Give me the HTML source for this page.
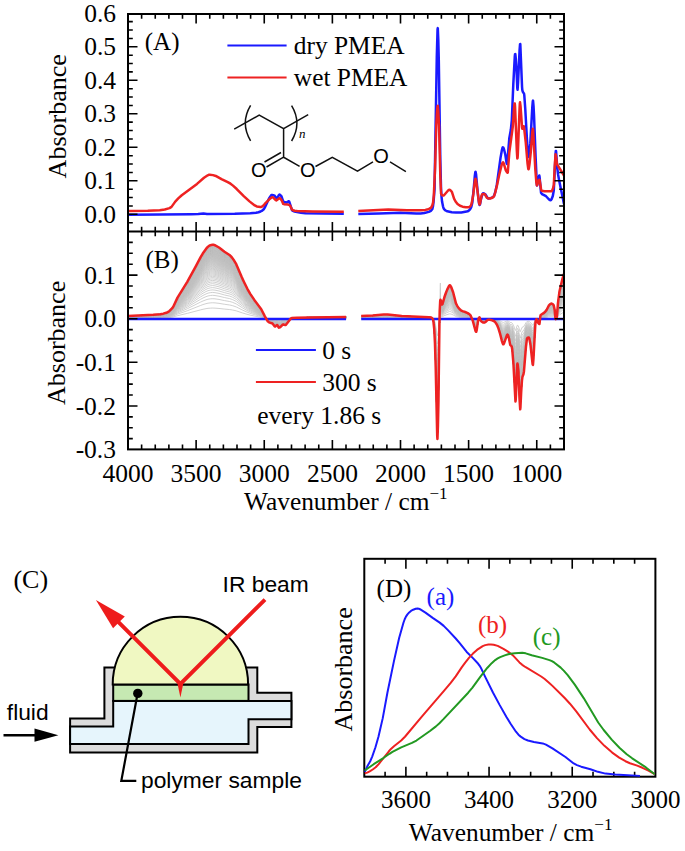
<!DOCTYPE html>
<html><head><meta charset="utf-8"><style>
html,body{margin:0;padding:0;background:#fff;width:685px;height:851px;overflow:hidden}
svg{display:block;font-family:"Liberation Serif",serif}
</style></head><body>
<svg width="685" height="851" viewBox="0 0 685 851">
<rect width="685" height="851" fill="#fff"/>
<defs><path id="g1" d="M128.00,-2.60 153.50,-3.96 160.50,-4.56 163.50,-5.11 166.50,-6.01 168.00,-6.68 169.50,-7.75 171.50,-9.69 173.00,-11.59 177.50,-21.10 187.50,-37.27 200.50,-61.32 203.00,-65.54 206.00,-69.75 208.00,-72.02 210.50,-73.48 212.50,-74.00 215.00,-73.38 219.00,-71.19 224.50,-66.91 229.50,-63.70 231.00,-62.31 232.50,-60.48 235.00,-56.70 236.50,-53.96 242.50,-39.98 247.00,-30.63 250.00,-25.23 254.00,-19.25 261.50,-9.06 264.50,-3.02 267.50,2.26 269.00,3.61 272.50,4.80 274.50,7.53 275.00,7.80 275.50,7.60 277.00,6.33 277.50,6.52 278.50,8.62 279.00,9.00 280.50,8.17 283.00,5.80 285.50,6.39 286.50,5.50 290.50,0.21 291.50,-0.52 292.00,-0.63 297.00,-1.01 310.50,-1.34 346.10,-1.70" fill="none" stroke="#c0c0c0" stroke-width="0.75" vector-effect="non-scaling-stroke"/>
<path id="g2" d="M361.20,-2.80 372.70,-3.24 383.70,-4.13 387.70,-4.17 401.70,-2.62 429.20,-1.55 431.20,-1.19 432.70,0.16 433.20,1.63 433.70,5.13 434.70,18.26 435.70,48.80 437.20,117.45 437.70,115.95 438.20,95.88 439.70,-7.89 440.20,-17.87 440.70,-18.52 441.70,-14.97 442.20,-14.30 442.70,-15.25 444.20,-20.84 446.20,-26.60 449.20,-33.09 449.70,-33.49 450.20,-33.32 451.20,-31.65 453.20,-26.17 455.70,-16.10 456.70,-13.82 458.70,-10.57 460.70,-8.53 462.20,-7.73 465.70,-6.54 467.70,-5.58 469.70,-4.20 470.70,-3.00 472.70,1.78 475.70,12.68 476.20,13.14 477.20,8.47 478.20,1.16 479.20,-1.17 479.70,-1.05 480.20,1.31 480.70,1.99 481.70,3.00 483.20,3.77 484.70,3.79 487.70,1.26 488.70,1.00 490.70,1.26 492.70,1.89 494.20,2.55 495.20,3.44 497.20,6.56 498.20,9.03 499.70,13.70 501.70,21.56 502.70,24.76 503.20,25.67 503.70,25.38 504.20,24.29 506.70,17.05 507.20,16.09 507.70,16.01 508.70,18.72 510.20,26.18 511.70,27.80 512.20,30.52 513.70,49.40 515.20,79.69 515.70,81.44 517.20,46.36 517.70,45.63 518.20,49.68 518.70,57.57 519.70,84.01 520.20,90.60 522.20,59.53 523.70,54.60 526.20,25.58 526.70,21.34 527.20,19.40 528.70,18.70 529.20,19.57 529.70,21.63 530.70,27.82 532.70,45.77 533.20,44.32 535.20,7.69 535.70,2.50 536.20,0.85 536.70,0.63 537.70,3.17 539.20,5.35 539.70,4.07 540.20,-1.03 540.70,-3.73 544.20,-6.02 545.20,-6.97 546.70,-8.99 548.70,-12.98 550.20,-14.59 551.20,-15.10 552.70,-14.54 553.70,-13.33 554.70,-8.68 555.20,-2.46 555.70,0.48 556.20,-0.03 556.70,-1.10 558.20,-17.83 559.70,-28.48 562.70,-40.91 564.50,-46.70" fill="none" stroke="#c0c0c0" stroke-width="0.75" vector-effect="non-scaling-stroke"/></defs>
<g clip-path="url(#cB)">
<use href="#g1" transform="translate(0,318.70) scale(1,0.1438)"/>
<use href="#g2" transform="translate(0,318.70) scale(1,0.1438)"/>
<use href="#g1" transform="translate(0,318.70) scale(1,0.2155)"/>
<use href="#g2" transform="translate(0,318.70) scale(1,0.2155)"/>
<use href="#g1" transform="translate(0,318.70) scale(1,0.2705)"/>
<use href="#g2" transform="translate(0,318.70) scale(1,0.2705)"/>
<use href="#g1" transform="translate(0,318.70) scale(1,0.3159)"/>
<use href="#g2" transform="translate(0,318.70) scale(1,0.3159)"/>
<use href="#g1" transform="translate(0,318.70) scale(1,0.3549)"/>
<use href="#g2" transform="translate(0,318.70) scale(1,0.3549)"/>
<use href="#g1" transform="translate(0,318.70) scale(1,0.3893)"/>
<use href="#g2" transform="translate(0,318.70) scale(1,0.3893)"/>
<use href="#g1" transform="translate(0,318.70) scale(1,0.4199)"/>
<use href="#g2" transform="translate(0,318.70) scale(1,0.4199)"/>
<use href="#g1" transform="translate(0,318.70) scale(1,0.4477)"/>
<use href="#g2" transform="translate(0,318.70) scale(1,0.4477)"/>
<use href="#g1" transform="translate(0,318.70) scale(1,0.4730)"/>
<use href="#g2" transform="translate(0,318.70) scale(1,0.4730)"/>
<use href="#g1" transform="translate(0,318.70) scale(1,0.4962)"/>
<use href="#g2" transform="translate(0,318.70) scale(1,0.4962)"/>
<use href="#g1" transform="translate(0,318.70) scale(1,0.5176)"/>
<use href="#g2" transform="translate(0,318.70) scale(1,0.5176)"/>
<use href="#g1" transform="translate(0,318.70) scale(1,0.5375)"/>
<use href="#g2" transform="translate(0,318.70) scale(1,0.5375)"/>
<use href="#g1" transform="translate(0,318.70) scale(1,0.5560)"/>
<use href="#g2" transform="translate(0,318.70) scale(1,0.5560)"/>
<use href="#g1" transform="translate(0,318.70) scale(1,0.5733)"/>
<use href="#g2" transform="translate(0,318.70) scale(1,0.5733)"/>
<use href="#g1" transform="translate(0,318.70) scale(1,0.5895)"/>
<use href="#g2" transform="translate(0,318.70) scale(1,0.5895)"/>
<use href="#g1" transform="translate(0,318.70) scale(1,0.6048)"/>
<use href="#g2" transform="translate(0,318.70) scale(1,0.6048)"/>
<use href="#g1" transform="translate(0,318.70) scale(1,0.6191)"/>
<use href="#g2" transform="translate(0,318.70) scale(1,0.6191)"/>
<use href="#g1" transform="translate(0,318.70) scale(1,0.6327)"/>
<use href="#g2" transform="translate(0,318.70) scale(1,0.6327)"/>
<use href="#g1" transform="translate(0,318.70) scale(1,0.6455)"/>
<use href="#g2" transform="translate(0,318.70) scale(1,0.6455)"/>
<use href="#g1" transform="translate(0,318.70) scale(1,0.6577)"/>
<use href="#g2" transform="translate(0,318.70) scale(1,0.6577)"/>
<use href="#g1" transform="translate(0,318.70) scale(1,0.6692)"/>
<use href="#g2" transform="translate(0,318.70) scale(1,0.6692)"/>
<use href="#g1" transform="translate(0,318.70) scale(1,0.6802)"/>
<use href="#g2" transform="translate(0,318.70) scale(1,0.6802)"/>
<use href="#g1" transform="translate(0,318.70) scale(1,0.6906)"/>
<use href="#g2" transform="translate(0,318.70) scale(1,0.6906)"/>
<use href="#g1" transform="translate(0,318.70) scale(1,0.7005)"/>
<use href="#g2" transform="translate(0,318.70) scale(1,0.7005)"/>
<use href="#g1" transform="translate(0,318.70) scale(1,0.7100)"/>
<use href="#g2" transform="translate(0,318.70) scale(1,0.7100)"/>
<use href="#g1" transform="translate(0,318.70) scale(1,0.7191)"/>
<use href="#g2" transform="translate(0,318.70) scale(1,0.7191)"/>
<use href="#g1" transform="translate(0,318.70) scale(1,0.7277)"/>
<use href="#g2" transform="translate(0,318.70) scale(1,0.7277)"/>
<use href="#g1" transform="translate(0,318.70) scale(1,0.7360)"/>
<use href="#g2" transform="translate(0,318.70) scale(1,0.7360)"/>
<use href="#g1" transform="translate(0,318.70) scale(1,0.7439)"/>
<use href="#g2" transform="translate(0,318.70) scale(1,0.7439)"/>
<use href="#g1" transform="translate(0,318.70) scale(1,0.7515)"/>
<use href="#g2" transform="translate(0,318.70) scale(1,0.7515)"/>
<use href="#g1" transform="translate(0,318.70) scale(1,0.7588)"/>
<use href="#g2" transform="translate(0,318.70) scale(1,0.7588)"/>
<use href="#g1" transform="translate(0,318.70) scale(1,0.7658)"/>
<use href="#g2" transform="translate(0,318.70) scale(1,0.7658)"/>
<use href="#g1" transform="translate(0,318.70) scale(1,0.7725)"/>
<use href="#g2" transform="translate(0,318.70) scale(1,0.7725)"/>
<use href="#g1" transform="translate(0,318.70) scale(1,0.7790)"/>
<use href="#g2" transform="translate(0,318.70) scale(1,0.7790)"/>
<use href="#g1" transform="translate(0,318.70) scale(1,0.7852)"/>
<use href="#g2" transform="translate(0,318.70) scale(1,0.7852)"/>
<use href="#g1" transform="translate(0,318.70) scale(1,0.7912)"/>
<use href="#g2" transform="translate(0,318.70) scale(1,0.7912)"/>
<use href="#g1" transform="translate(0,318.70) scale(1,0.7969)"/>
<use href="#g2" transform="translate(0,318.70) scale(1,0.7969)"/>
<use href="#g1" transform="translate(0,318.70) scale(1,0.8024)"/>
<use href="#g2" transform="translate(0,318.70) scale(1,0.8024)"/>
<use href="#g1" transform="translate(0,318.70) scale(1,0.8078)"/>
<use href="#g2" transform="translate(0,318.70) scale(1,0.8078)"/>
<use href="#g1" transform="translate(0,318.70) scale(1,0.8129)"/>
<use href="#g2" transform="translate(0,318.70) scale(1,0.8129)"/>
<use href="#g1" transform="translate(0,318.70) scale(1,0.8179)"/>
<use href="#g2" transform="translate(0,318.70) scale(1,0.8179)"/>
<use href="#g1" transform="translate(0,318.70) scale(1,0.8227)"/>
<use href="#g2" transform="translate(0,318.70) scale(1,0.8227)"/>
<use href="#g1" transform="translate(0,318.70) scale(1,0.8273)"/>
<use href="#g2" transform="translate(0,318.70) scale(1,0.8273)"/>
<use href="#g1" transform="translate(0,318.70) scale(1,0.8318)"/>
<use href="#g2" transform="translate(0,318.70) scale(1,0.8318)"/>
<use href="#g1" transform="translate(0,318.70) scale(1,0.8361)"/>
<use href="#g2" transform="translate(0,318.70) scale(1,0.8361)"/>
<use href="#g1" transform="translate(0,318.70) scale(1,0.8403)"/>
<use href="#g2" transform="translate(0,318.70) scale(1,0.8403)"/>
<use href="#g1" transform="translate(0,318.70) scale(1,0.8443)"/>
<use href="#g2" transform="translate(0,318.70) scale(1,0.8443)"/>
<use href="#g1" transform="translate(0,318.70) scale(1,0.8482)"/>
<use href="#g2" transform="translate(0,318.70) scale(1,0.8482)"/>
<use href="#g1" transform="translate(0,318.70) scale(1,0.8520)"/>
<use href="#g2" transform="translate(0,318.70) scale(1,0.8520)"/>
<use href="#g1" transform="translate(0,318.70) scale(1,0.8557)"/>
<use href="#g2" transform="translate(0,318.70) scale(1,0.8557)"/>
<use href="#g1" transform="translate(0,318.70) scale(1,0.8592)"/>
<use href="#g2" transform="translate(0,318.70) scale(1,0.8592)"/>
<use href="#g1" transform="translate(0,318.70) scale(1,0.8627)"/>
<use href="#g2" transform="translate(0,318.70) scale(1,0.8627)"/>
<use href="#g1" transform="translate(0,318.70) scale(1,0.8660)"/>
<use href="#g2" transform="translate(0,318.70) scale(1,0.8660)"/>
<use href="#g1" transform="translate(0,318.70) scale(1,0.8692)"/>
<use href="#g2" transform="translate(0,318.70) scale(1,0.8692)"/>
<use href="#g1" transform="translate(0,318.70) scale(1,0.8724)"/>
<use href="#g2" transform="translate(0,318.70) scale(1,0.8724)"/>
<use href="#g1" transform="translate(0,318.70) scale(1,0.8754)"/>
<use href="#g2" transform="translate(0,318.70) scale(1,0.8754)"/>
<use href="#g1" transform="translate(0,318.70) scale(1,0.8783)"/>
<use href="#g2" transform="translate(0,318.70) scale(1,0.8783)"/>
<use href="#g1" transform="translate(0,318.70) scale(1,0.8812)"/>
<use href="#g2" transform="translate(0,318.70) scale(1,0.8812)"/>
<use href="#g1" transform="translate(0,318.70) scale(1,0.8840)"/>
<use href="#g2" transform="translate(0,318.70) scale(1,0.8840)"/>
<use href="#g1" transform="translate(0,318.70) scale(1,0.8867)"/>
<use href="#g2" transform="translate(0,318.70) scale(1,0.8867)"/>
<use href="#g1" transform="translate(0,318.70) scale(1,0.8893)"/>
<use href="#g2" transform="translate(0,318.70) scale(1,0.8893)"/>
<use href="#g1" transform="translate(0,318.70) scale(1,0.8918)"/>
<use href="#g2" transform="translate(0,318.70) scale(1,0.8918)"/>
<use href="#g1" transform="translate(0,318.70) scale(1,0.8943)"/>
<use href="#g2" transform="translate(0,318.70) scale(1,0.8943)"/>
<use href="#g1" transform="translate(0,318.70) scale(1,0.8967)"/>
<use href="#g2" transform="translate(0,318.70) scale(1,0.8967)"/>
<use href="#g1" transform="translate(0,318.70) scale(1,0.8990)"/>
<use href="#g2" transform="translate(0,318.70) scale(1,0.8990)"/>
<use href="#g1" transform="translate(0,318.70) scale(1,0.9013)"/>
<use href="#g2" transform="translate(0,318.70) scale(1,0.9013)"/>
<use href="#g1" transform="translate(0,318.70) scale(1,0.9035)"/>
<use href="#g2" transform="translate(0,318.70) scale(1,0.9035)"/>
<use href="#g1" transform="translate(0,318.70) scale(1,0.9056)"/>
<use href="#g2" transform="translate(0,318.70) scale(1,0.9056)"/>
<use href="#g1" transform="translate(0,318.70) scale(1,0.9077)"/>
<use href="#g2" transform="translate(0,318.70) scale(1,0.9077)"/>
<use href="#g1" transform="translate(0,318.70) scale(1,0.9097)"/>
<use href="#g2" transform="translate(0,318.70) scale(1,0.9097)"/>
<use href="#g1" transform="translate(0,318.70) scale(1,0.9117)"/>
<use href="#g2" transform="translate(0,318.70) scale(1,0.9117)"/>
<use href="#g1" transform="translate(0,318.70) scale(1,0.9136)"/>
<use href="#g2" transform="translate(0,318.70) scale(1,0.9136)"/>
<use href="#g1" transform="translate(0,318.70) scale(1,0.9155)"/>
<use href="#g2" transform="translate(0,318.70) scale(1,0.9155)"/>
<use href="#g1" transform="translate(0,318.70) scale(1,0.9173)"/>
<use href="#g2" transform="translate(0,318.70) scale(1,0.9173)"/>
<use href="#g1" transform="translate(0,318.70) scale(1,0.9191)"/>
<use href="#g2" transform="translate(0,318.70) scale(1,0.9191)"/>
<use href="#g1" transform="translate(0,318.70) scale(1,0.9208)"/>
<use href="#g2" transform="translate(0,318.70) scale(1,0.9208)"/>
<use href="#g1" transform="translate(0,318.70) scale(1,0.9225)"/>
<use href="#g2" transform="translate(0,318.70) scale(1,0.9225)"/>
<use href="#g1" transform="translate(0,318.70) scale(1,0.9241)"/>
<use href="#g2" transform="translate(0,318.70) scale(1,0.9241)"/>
<use href="#g1" transform="translate(0,318.70) scale(1,0.9257)"/>
<use href="#g2" transform="translate(0,318.70) scale(1,0.9257)"/>
<use href="#g1" transform="translate(0,318.70) scale(1,0.9273)"/>
<use href="#g2" transform="translate(0,318.70) scale(1,0.9273)"/>
<use href="#g1" transform="translate(0,318.70) scale(1,0.9288)"/>
<use href="#g2" transform="translate(0,318.70) scale(1,0.9288)"/>
<use href="#g1" transform="translate(0,318.70) scale(1,0.9303)"/>
<use href="#g2" transform="translate(0,318.70) scale(1,0.9303)"/>
<use href="#g1" transform="translate(0,318.70) scale(1,0.9317)"/>
<use href="#g2" transform="translate(0,318.70) scale(1,0.9317)"/>
<use href="#g1" transform="translate(0,318.70) scale(1,0.9331)"/>
<use href="#g2" transform="translate(0,318.70) scale(1,0.9331)"/>
<use href="#g1" transform="translate(0,318.70) scale(1,0.9345)"/>
<use href="#g2" transform="translate(0,318.70) scale(1,0.9345)"/>
<use href="#g1" transform="translate(0,318.70) scale(1,0.9358)"/>
<use href="#g2" transform="translate(0,318.70) scale(1,0.9358)"/>
<use href="#g1" transform="translate(0,318.70) scale(1,0.9371)"/>
<use href="#g2" transform="translate(0,318.70) scale(1,0.9371)"/>
<use href="#g1" transform="translate(0,318.70) scale(1,0.9384)"/>
<use href="#g2" transform="translate(0,318.70) scale(1,0.9384)"/>
<use href="#g1" transform="translate(0,318.70) scale(1,0.9397)"/>
<use href="#g2" transform="translate(0,318.70) scale(1,0.9397)"/>
<use href="#g1" transform="translate(0,318.70) scale(1,0.9409)"/>
<use href="#g2" transform="translate(0,318.70) scale(1,0.9409)"/>
<use href="#g1" transform="translate(0,318.70) scale(1,0.9421)"/>
<use href="#g2" transform="translate(0,318.70) scale(1,0.9421)"/>
<use href="#g1" transform="translate(0,318.70) scale(1,0.9432)"/>
<use href="#g2" transform="translate(0,318.70) scale(1,0.9432)"/>
<use href="#g1" transform="translate(0,318.70) scale(1,0.9443)"/>
<use href="#g2" transform="translate(0,318.70) scale(1,0.9443)"/>
<use href="#g1" transform="translate(0,318.70) scale(1,0.9454)"/>
<use href="#g2" transform="translate(0,318.70) scale(1,0.9454)"/>
<use href="#g1" transform="translate(0,318.70) scale(1,0.9465)"/>
<use href="#g2" transform="translate(0,318.70) scale(1,0.9465)"/>
<use href="#g1" transform="translate(0,318.70) scale(1,0.9476)"/>
<use href="#g2" transform="translate(0,318.70) scale(1,0.9476)"/>
<use href="#g1" transform="translate(0,318.70) scale(1,0.9486)"/>
<use href="#g2" transform="translate(0,318.70) scale(1,0.9486)"/>
<use href="#g1" transform="translate(0,318.70) scale(1,0.9496)"/>
<use href="#g2" transform="translate(0,318.70) scale(1,0.9496)"/>
<use href="#g1" transform="translate(0,318.70) scale(1,0.9506)"/>
<use href="#g2" transform="translate(0,318.70) scale(1,0.9506)"/>
<use href="#g1" transform="translate(0,318.70) scale(1,0.9515)"/>
<use href="#g2" transform="translate(0,318.70) scale(1,0.9515)"/>
<use href="#g1" transform="translate(0,318.70) scale(1,0.9525)"/>
<use href="#g2" transform="translate(0,318.70) scale(1,0.9525)"/>
<use href="#g1" transform="translate(0,318.70) scale(1,0.9534)"/>
<use href="#g2" transform="translate(0,318.70) scale(1,0.9534)"/>
<use href="#g1" transform="translate(0,318.70) scale(1,0.9543)"/>
<use href="#g2" transform="translate(0,318.70) scale(1,0.9543)"/>
<use href="#g1" transform="translate(0,318.70) scale(1,0.9552)"/>
<use href="#g2" transform="translate(0,318.70) scale(1,0.9552)"/>
<use href="#g1" transform="translate(0,318.70) scale(1,0.9560)"/>
<use href="#g2" transform="translate(0,318.70) scale(1,0.9560)"/>
<use href="#g1" transform="translate(0,318.70) scale(1,0.9568)"/>
<use href="#g2" transform="translate(0,318.70) scale(1,0.9568)"/>
<use href="#g1" transform="translate(0,318.70) scale(1,0.9577)"/>
<use href="#g2" transform="translate(0,318.70) scale(1,0.9577)"/>
<use href="#g1" transform="translate(0,318.70) scale(1,0.9585)"/>
<use href="#g2" transform="translate(0,318.70) scale(1,0.9585)"/>
<use href="#g1" transform="translate(0,318.70) scale(1,0.9592)"/>
<use href="#g2" transform="translate(0,318.70) scale(1,0.9592)"/>
<use href="#g1" transform="translate(0,318.70) scale(1,0.9600)"/>
<use href="#g2" transform="translate(0,318.70) scale(1,0.9600)"/>
<use href="#g1" transform="translate(0,318.70) scale(1,0.9608)"/>
<use href="#g2" transform="translate(0,318.70) scale(1,0.9608)"/>
<use href="#g1" transform="translate(0,318.70) scale(1,0.9615)"/>
<use href="#g2" transform="translate(0,318.70) scale(1,0.9615)"/>
<use href="#g1" transform="translate(0,318.70) scale(1,0.9622)"/>
<use href="#g2" transform="translate(0,318.70) scale(1,0.9622)"/>
<use href="#g1" transform="translate(0,318.70) scale(1,0.9629)"/>
<use href="#g2" transform="translate(0,318.70) scale(1,0.9629)"/>
<use href="#g1" transform="translate(0,318.70) scale(1,0.9636)"/>
<use href="#g2" transform="translate(0,318.70) scale(1,0.9636)"/>
<use href="#g1" transform="translate(0,318.70) scale(1,0.9642)"/>
<use href="#g2" transform="translate(0,318.70) scale(1,0.9642)"/>
<use href="#g1" transform="translate(0,318.70) scale(1,0.9649)"/>
<use href="#g2" transform="translate(0,318.70) scale(1,0.9649)"/>
<use href="#g1" transform="translate(0,318.70) scale(1,0.9655)"/>
<use href="#g2" transform="translate(0,318.70) scale(1,0.9655)"/>
<use href="#g1" transform="translate(0,318.70) scale(1,0.9662)"/>
<use href="#g2" transform="translate(0,318.70) scale(1,0.9662)"/>
<use href="#g1" transform="translate(0,318.70) scale(1,0.9668)"/>
<use href="#g2" transform="translate(0,318.70) scale(1,0.9668)"/>
<use href="#g1" transform="translate(0,318.70) scale(1,0.9674)"/>
<use href="#g2" transform="translate(0,318.70) scale(1,0.9674)"/>
<use href="#g1" transform="translate(0,318.70) scale(1,0.9680)"/>
<use href="#g2" transform="translate(0,318.70) scale(1,0.9680)"/>
<use href="#g1" transform="translate(0,318.70) scale(1,0.9686)"/>
<use href="#g2" transform="translate(0,318.70) scale(1,0.9686)"/>
<use href="#g1" transform="translate(0,318.70) scale(1,0.9691)"/>
<use href="#g2" transform="translate(0,318.70) scale(1,0.9691)"/>
<use href="#g1" transform="translate(0,318.70) scale(1,0.9697)"/>
<use href="#g2" transform="translate(0,318.70) scale(1,0.9697)"/>
<use href="#g1" transform="translate(0,318.70) scale(1,0.9702)"/>
<use href="#g2" transform="translate(0,318.70) scale(1,0.9702)"/>
<use href="#g1" transform="translate(0,318.70) scale(1,0.9707)"/>
<use href="#g2" transform="translate(0,318.70) scale(1,0.9707)"/>
<use href="#g1" transform="translate(0,318.70) scale(1,0.9713)"/>
<use href="#g2" transform="translate(0,318.70) scale(1,0.9713)"/>
<use href="#g1" transform="translate(0,318.70) scale(1,0.9718)"/>
<use href="#g2" transform="translate(0,318.70) scale(1,0.9718)"/>
<use href="#g1" transform="translate(0,318.70) scale(1,0.9723)"/>
<use href="#g2" transform="translate(0,318.70) scale(1,0.9723)"/>
<use href="#g1" transform="translate(0,318.70) scale(1,0.9728)"/>
<use href="#g2" transform="translate(0,318.70) scale(1,0.9728)"/>
<use href="#g1" transform="translate(0,318.70) scale(1,0.9732)"/>
<use href="#g2" transform="translate(0,318.70) scale(1,0.9732)"/>
<use href="#g1" transform="translate(0,318.70) scale(1,0.9737)"/>
<use href="#g2" transform="translate(0,318.70) scale(1,0.9737)"/>
<use href="#g1" transform="translate(0,318.70) scale(1,0.9742)"/>
<use href="#g2" transform="translate(0,318.70) scale(1,0.9742)"/>
<use href="#g1" transform="translate(0,318.70) scale(1,0.9746)"/>
<use href="#g2" transform="translate(0,318.70) scale(1,0.9746)"/>
<use href="#g1" transform="translate(0,318.70) scale(1,0.9751)"/>
<use href="#g2" transform="translate(0,318.70) scale(1,0.9751)"/>
<use href="#g1" transform="translate(0,318.70) scale(1,0.9755)"/>
<use href="#g2" transform="translate(0,318.70) scale(1,0.9755)"/>
<use href="#g1" transform="translate(0,318.70) scale(1,0.9759)"/>
<use href="#g2" transform="translate(0,318.70) scale(1,0.9759)"/>
<use href="#g1" transform="translate(0,318.70) scale(1,0.9763)"/>
<use href="#g2" transform="translate(0,318.70) scale(1,0.9763)"/>
<use href="#g1" transform="translate(0,318.70) scale(1,0.9767)"/>
<use href="#g2" transform="translate(0,318.70) scale(1,0.9767)"/>
<use href="#g1" transform="translate(0,318.70) scale(1,0.9771)"/>
<use href="#g2" transform="translate(0,318.70) scale(1,0.9771)"/>
<use href="#g1" transform="translate(0,318.70) scale(1,0.9775)"/>
<use href="#g2" transform="translate(0,318.70) scale(1,0.9775)"/>
<use href="#g1" transform="translate(0,318.70) scale(1,0.9779)"/>
<use href="#g2" transform="translate(0,318.70) scale(1,0.9779)"/>
<use href="#g1" transform="translate(0,318.70) scale(1,0.9783)"/>
<use href="#g2" transform="translate(0,318.70) scale(1,0.9783)"/>
<use href="#g1" transform="translate(0,318.70) scale(1,0.9787)"/>
<use href="#g2" transform="translate(0,318.70) scale(1,0.9787)"/>
<use href="#g1" transform="translate(0,318.70) scale(1,0.9790)"/>
<use href="#g2" transform="translate(0,318.70) scale(1,0.9790)"/>
<use href="#g1" transform="translate(0,318.70) scale(1,0.9794)"/>
<use href="#g2" transform="translate(0,318.70) scale(1,0.9794)"/>
<use href="#g1" transform="translate(0,318.70) scale(1,0.9797)"/>
<use href="#g2" transform="translate(0,318.70) scale(1,0.9797)"/>
<use href="#g1" transform="translate(0,318.70) scale(1,0.9801)"/>
<use href="#g2" transform="translate(0,318.70) scale(1,0.9801)"/>
<use href="#g1" transform="translate(0,318.70) scale(1,0.9804)"/>
<use href="#g2" transform="translate(0,318.70) scale(1,0.9804)"/>
<use href="#g1" transform="translate(0,318.70) scale(1,0.9807)"/>
<use href="#g2" transform="translate(0,318.70) scale(1,0.9807)"/>
<use href="#g1" transform="translate(0,318.70) scale(1,0.9810)"/>
<use href="#g2" transform="translate(0,318.70) scale(1,0.9810)"/>
<use href="#g1" transform="translate(0,318.70) scale(1,0.9814)"/>
<use href="#g2" transform="translate(0,318.70) scale(1,0.9814)"/>
<use href="#g1" transform="translate(0,318.70) scale(1,0.9817)"/>
<use href="#g2" transform="translate(0,318.70) scale(1,0.9817)"/>
<use href="#g1" transform="translate(0,318.70) scale(1,0.9820)"/>
<use href="#g2" transform="translate(0,318.70) scale(1,0.9820)"/>
<use href="#g1" transform="translate(0,318.70) scale(1,0.9823)"/>
<use href="#g2" transform="translate(0,318.70) scale(1,0.9823)"/>
<use href="#g1" transform="translate(0,318.70) scale(1,0.9826)"/>
<use href="#g2" transform="translate(0,318.70) scale(1,0.9826)"/>
<use href="#g1" transform="translate(0,318.70) scale(1,0.9829)"/>
<use href="#g2" transform="translate(0,318.70) scale(1,0.9829)"/>
<use href="#g1" transform="translate(0,318.70) scale(1,0.9831)"/>
<use href="#g2" transform="translate(0,318.70) scale(1,0.9831)"/>
<use href="#g1" transform="translate(0,318.70) scale(1,0.9834)"/>
<use href="#g2" transform="translate(0,318.70) scale(1,0.9834)"/>
</g>
<path d="M439.4,318.5 L439.8,283 L440.8,283 L441.2,318.5 Z" fill="#c4c4c4"/>
<defs><clipPath id="cA"><rect x="128" y="14" width="436" height="217.5"/></clipPath><clipPath id="cB"><rect x="128" y="231.5" width="436" height="217.9"/></clipPath><clipPath id="cD"><rect x="364.3" y="558.8" width="291.1" height="217.9"/></clipPath></defs>
<g clip-path="url(#cA)">
<path d="M128.00,214.80 191.50,214.15 198.25,213.99 203.50,213.50 207.00,213.90 234.75,213.74 250.25,213.29 256.00,212.80 258.50,212.25 260.50,211.52 262.25,210.54 263.75,209.25 264.75,207.69 269.00,198.50 271.25,195.24 271.75,195.00 272.25,195.02 274.25,195.41 276.25,197.85 277.00,198.18 277.50,197.71 279.00,194.95 279.50,194.60 280.25,194.94 281.50,196.42 283.00,200.80 283.50,201.60 285.00,202.35 286.50,202.59 288.50,201.30 289.00,201.23 289.25,201.51 292.00,210.14 293.00,210.89 294.50,211.50 301.00,212.79 305.50,213.28 323.25,213.59 343.80,213.70" fill="none" stroke="#1a1aff" stroke-width="2.5" stroke-linejoin="round" stroke-linecap="butt"/>
<path d="M358.30,213.90 379.05,213.48 400.30,212.81 405.30,212.88 416.30,213.45 420.55,213.46 424.30,212.98 428.80,211.90 430.80,210.85 432.30,209.25 433.05,205.88 433.55,201.81 434.55,189.08 436.80,56.36 437.55,29.28 437.80,28.13 438.30,40.00 438.80,60.20 440.30,159.16 441.05,188.97 441.55,196.91 442.05,201.56 443.05,206.55 443.55,208.15 444.05,209.06 445.55,210.50 447.30,211.35 451.80,212.23 456.05,212.59 461.30,212.40 466.55,211.59 468.30,211.01 469.80,209.63 470.55,208.62 471.30,206.89 472.30,202.67 473.80,187.95 474.80,175.81 475.30,172.09 475.55,171.72 476.05,174.21 477.30,188.19 478.55,199.61 479.05,203.31 479.55,204.98 479.80,204.80 480.05,204.07 481.05,198.99 482.05,195.41 482.55,193.97 483.05,193.31 484.05,193.52 485.30,194.24 487.55,197.88 488.30,198.49 489.80,198.32 492.05,197.60 493.30,196.78 494.05,195.82 495.30,191.89 496.80,184.96 500.55,157.60 501.80,150.64 502.55,147.63 502.80,147.24 503.30,147.52 504.05,149.46 505.30,154.47 506.55,162.87 506.80,163.76 507.05,163.96 507.30,162.70 509.30,138.27 510.80,130.01 511.80,120.34 513.30,84.11 514.80,56.14 515.05,54.15 515.30,53.96 515.80,58.66 516.55,70.84 517.30,88.33 517.55,89.82 518.05,82.58 519.55,50.47 520.05,44.14 520.30,44.10 522.05,86.84 522.30,89.90 522.55,90.95 523.05,92.23 524.05,93.65 524.30,95.45 525.30,109.53 526.80,136.90 527.80,151.74 528.30,156.40 528.55,156.88 529.05,155.13 530.30,143.43 532.30,107.08 532.80,101.17 533.05,100.56 533.55,106.28 534.05,115.98 535.55,155.50 536.80,183.86 537.05,185.48 537.55,183.68 538.80,176.91 539.30,175.50 539.55,176.70 541.05,192.78 541.80,193.81 542.55,194.46 546.05,196.22 548.80,199.25 549.80,200.06 550.80,200.25 551.55,199.29 552.80,196.06 553.80,190.30 555.55,153.94 555.80,150.92 556.05,150.98 557.30,168.13 558.05,174.24 559.30,181.36 564.00,204.00" fill="none" stroke="#1a1aff" stroke-width="2.5" stroke-linejoin="round" stroke-linecap="butt"/>
<path d="M128.00,211.10 147.75,210.72 159.75,210.22 164.75,209.48 169.50,208.12 171.50,206.90 175.25,201.61 178.25,198.43 181.75,195.25 197.00,183.90 204.00,177.81 207.75,175.28 208.75,174.85 209.75,174.70 213.00,175.13 215.75,175.95 221.50,179.14 227.75,182.11 230.50,183.69 233.00,185.63 236.75,189.01 243.75,196.09 249.50,201.38 254.75,205.39 256.75,206.44 260.50,207.00 261.25,206.94 262.00,206.61 263.75,205.27 265.50,203.06 269.00,199.51 271.25,197.68 272.50,197.20 273.25,197.55 275.75,200.20 276.25,200.40 279.00,198.42 279.75,198.20 280.25,198.39 281.75,200.44 283.25,203.92 284.00,204.18 288.00,204.54 289.50,205.16 290.25,205.79 292.00,209.74 293.00,210.22 294.75,210.70 297.25,211.00 312.50,211.43 343.80,211.70" fill="none" stroke="#ee2222" stroke-width="2.5" stroke-linejoin="round" stroke-linecap="butt"/>
<path d="M358.30,210.90 388.30,209.61 407.05,210.33 419.80,210.25 425.30,209.88 427.05,209.58 429.55,208.63 431.30,207.40 432.30,205.34 433.05,202.66 433.80,195.61 435.05,168.77 436.30,124.49 437.05,110.90 437.55,105.93 437.80,105.77 438.30,110.98 439.05,126.16 440.30,175.00 441.05,193.70 441.55,194.56 442.30,195.27 443.05,195.57 443.80,195.49 448.30,190.30 449.05,189.84 450.05,190.04 451.30,191.16 452.05,192.29 454.05,198.65 455.55,201.50 457.55,204.03 460.05,205.72 462.55,206.67 465.80,207.15 468.55,207.30 469.80,206.71 471.05,205.25 471.80,202.69 473.30,194.40 474.80,181.49 475.30,178.96 475.55,178.71 475.80,179.20 476.30,181.85 478.80,201.32 479.30,203.89 479.55,204.38 479.80,204.21 480.05,203.52 481.55,195.56 482.05,194.48 483.55,193.97 484.55,193.98 485.05,194.53 486.80,197.68 487.30,198.04 488.80,198.43 490.05,198.48 491.55,198.06 493.55,196.84 494.05,196.16 495.05,193.17 496.80,186.12 499.30,174.55 501.55,165.44 502.30,163.14 502.80,162.37 503.05,162.31 503.30,162.50 503.80,163.55 505.80,170.31 507.05,172.37 507.55,172.77 507.80,172.47 509.30,152.55 512.80,126.61 514.05,107.79 514.55,103.48 514.80,103.51 515.05,106.57 516.80,150.42 517.30,158.42 517.55,158.09 517.80,154.79 519.55,108.77 519.80,103.75 520.05,102.34 520.55,106.29 522.05,127.40 522.30,128.70 522.55,128.48 523.55,126.18 523.80,126.22 524.05,127.39 525.80,142.80 527.55,163.55 528.30,168.97 528.55,169.28 528.80,168.76 529.55,163.87 530.80,151.89 532.30,131.84 532.80,128.80 533.05,129.23 535.30,169.27 536.30,182.00 536.80,185.38 537.05,185.38 537.30,184.74 538.30,181.00 539.05,179.94 539.55,179.73 541.05,189.07 541.55,190.77 544.55,191.26 551.05,191.30 551.55,191.19 552.05,190.63 553.05,188.13 553.80,185.00 554.80,165.00 555.55,154.37 555.80,154.76 556.05,156.34 556.80,162.86 557.30,164.57 564.00,175.50" fill="none" stroke="#ee2222" stroke-width="2.5" stroke-linejoin="round" stroke-linecap="butt"/>
</g><g clip-path="url(#cB)">
<path d="M128.00,318.90 346.10,318.90" fill="none" stroke="#1a1aff" stroke-width="2.5" stroke-linejoin="round" stroke-linecap="butt"/>
<path d="M361.20,318.90 564.00,319.00" fill="none" stroke="#1a1aff" stroke-width="2.5" stroke-linejoin="round" stroke-linecap="butt"/>
<path d="M128.00,316.10 153.25,314.76 160.25,314.17 163.25,313.65 166.25,312.78 168.00,312.02 169.50,310.95 172.00,308.45 173.25,306.69 177.50,297.60 187.25,281.87 195.50,266.89 200.50,257.38 202.75,253.54 206.00,248.95 208.00,246.68 209.00,245.95 210.50,245.22 212.50,244.70 213.50,244.80 214.75,245.21 219.00,247.51 224.50,251.79 229.50,255.00 230.75,256.12 232.25,257.89 234.25,260.80 236.25,264.24 241.50,276.53 244.00,281.91 247.50,289.04 250.25,293.87 254.50,300.15 261.25,309.24 264.75,316.17 267.75,321.30 269.00,322.31 272.50,323.50 274.75,326.43 275.25,326.45 276.75,325.16 277.25,325.01 277.75,325.66 278.50,327.32 279.00,327.70 279.75,327.42 280.50,326.87 282.75,324.58 283.50,324.57 285.25,325.09 285.75,324.99 290.25,319.17 291.00,318.46 291.75,318.11 297.00,317.69 309.50,317.38 346.10,317.00" fill="none" stroke="#ee2222" stroke-width="2.5" stroke-linejoin="round" stroke-linecap="butt"/>
<path d="M361.20,315.90 372.70,315.46 383.70,314.57 387.70,314.53 401.70,316.08 428.95,317.13 431.20,317.51 431.95,318.02 432.70,318.86 432.95,319.32 433.45,321.86 434.20,328.86 434.95,343.22 435.70,367.50 437.20,436.15 437.45,439.06 437.95,425.74 438.45,401.81 439.45,322.82 439.70,310.81 440.20,300.83 440.45,299.81 440.95,300.88 441.95,304.47 442.45,304.04 444.45,297.04 445.95,292.78 447.20,289.63 449.20,285.61 449.70,285.21 450.20,285.38 451.20,287.05 453.20,292.53 455.95,303.32 457.20,305.80 458.45,307.79 459.70,309.31 460.95,310.33 462.45,311.07 465.95,312.26 467.70,313.12 469.45,314.28 470.70,315.70 472.70,320.48 475.45,330.65 475.95,331.82 476.20,331.84 476.70,330.12 478.20,319.86 478.70,318.33 479.45,317.33 479.70,317.65 479.95,319.54 480.20,320.01 481.45,321.48 482.95,322.40 483.95,322.59 484.70,322.49 485.45,322.01 487.45,320.13 488.45,319.70 490.20,319.86 492.20,320.40 494.20,321.25 495.20,322.14 496.95,324.79 498.20,327.73 499.95,333.26 501.70,340.26 502.70,343.46 503.20,344.37 503.45,344.35 503.95,343.61 506.95,335.18 507.45,334.61 507.95,335.13 508.95,338.28 510.20,344.88 511.70,346.50 512.20,349.22 513.45,364.00 515.45,401.50 515.70,400.14 515.95,395.34 517.20,365.06 517.45,363.52 517.70,364.33 518.45,371.13 519.45,397.70 520.20,409.30 520.45,407.25 521.20,391.70 521.95,380.67 522.45,376.93 523.45,374.30 523.95,371.42 525.95,346.92 526.95,338.71 527.45,337.90 528.70,337.40 528.95,337.63 529.45,339.20 530.45,344.50 532.45,362.94 532.70,364.47 532.95,364.84 533.45,359.22 535.20,326.39 535.45,323.09 535.95,320.26 536.45,319.21 536.70,319.33 537.95,322.42 538.95,323.86 539.45,324.06 540.45,315.64 540.70,314.97 543.95,312.87 545.20,311.73 546.70,309.71 548.70,305.72 550.20,304.11 551.20,303.60 551.95,303.73 552.70,304.16 553.45,304.86 553.70,305.37 554.70,310.02 555.45,318.70 555.70,319.18 556.20,318.67 556.70,317.60 556.95,316.02 557.95,303.13 559.45,291.58 562.45,278.74 564.50,272.00" fill="none" stroke="#ee2222" stroke-width="2.5" stroke-linejoin="round" stroke-linecap="butt"/>
</g>
<rect x="128" y="14" width="436" height="435.4" fill="none" stroke="#000" stroke-width="2"/>
<line x1="128.00" y1="231.50" x2="564.00" y2="231.50" stroke="#000" stroke-width="2"/>
<path d="M141.62,14.00L141.62,18.80 M141.62,231.50L141.62,226.70 M141.62,231.50L141.62,236.30 M141.62,449.40L141.62,444.60 M155.25,14.00L155.25,18.80 M155.25,231.50L155.25,226.70 M155.25,231.50L155.25,236.30 M155.25,449.40L155.25,444.60 M168.88,14.00L168.88,18.80 M168.88,231.50L168.88,226.70 M168.88,231.50L168.88,236.30 M168.88,449.40L168.88,444.60 M182.50,14.00L182.50,18.80 M182.50,231.50L182.50,226.70 M182.50,231.50L182.50,236.30 M182.50,449.40L182.50,444.60 M196.12,14.00L196.12,23.50 M196.12,231.50L196.12,222.00 M196.12,231.50L196.12,241.00 M196.12,449.40L196.12,439.90 M209.75,14.00L209.75,18.80 M209.75,231.50L209.75,226.70 M209.75,231.50L209.75,236.30 M209.75,449.40L209.75,444.60 M223.38,14.00L223.38,18.80 M223.38,231.50L223.38,226.70 M223.38,231.50L223.38,236.30 M223.38,449.40L223.38,444.60 M237.00,14.00L237.00,18.80 M237.00,231.50L237.00,226.70 M237.00,231.50L237.00,236.30 M237.00,449.40L237.00,444.60 M250.62,14.00L250.62,18.80 M250.62,231.50L250.62,226.70 M250.62,231.50L250.62,236.30 M250.62,449.40L250.62,444.60 M264.25,14.00L264.25,23.50 M264.25,231.50L264.25,222.00 M264.25,231.50L264.25,241.00 M264.25,449.40L264.25,439.90 M277.88,14.00L277.88,18.80 M277.88,231.50L277.88,226.70 M277.88,231.50L277.88,236.30 M277.88,449.40L277.88,444.60 M291.50,14.00L291.50,18.80 M291.50,231.50L291.50,226.70 M291.50,231.50L291.50,236.30 M291.50,449.40L291.50,444.60 M305.12,14.00L305.12,18.80 M305.12,231.50L305.12,226.70 M305.12,231.50L305.12,236.30 M305.12,449.40L305.12,444.60 M318.75,14.00L318.75,18.80 M318.75,231.50L318.75,226.70 M318.75,231.50L318.75,236.30 M318.75,449.40L318.75,444.60 M332.38,14.00L332.38,23.50 M332.38,231.50L332.38,222.00 M332.38,231.50L332.38,241.00 M332.38,449.40L332.38,439.90 M346.00,14.00L346.00,18.80 M346.00,231.50L346.00,226.70 M346.00,231.50L346.00,236.30 M346.00,449.40L346.00,444.60 M359.62,14.00L359.62,18.80 M359.62,231.50L359.62,226.70 M359.62,231.50L359.62,236.30 M359.62,449.40L359.62,444.60 M373.25,14.00L373.25,18.80 M373.25,231.50L373.25,226.70 M373.25,231.50L373.25,236.30 M373.25,449.40L373.25,444.60 M386.88,14.00L386.88,18.80 M386.88,231.50L386.88,226.70 M386.88,231.50L386.88,236.30 M386.88,449.40L386.88,444.60 M400.50,14.00L400.50,23.50 M400.50,231.50L400.50,222.00 M400.50,231.50L400.50,241.00 M400.50,449.40L400.50,439.90 M414.12,14.00L414.12,18.80 M414.12,231.50L414.12,226.70 M414.12,231.50L414.12,236.30 M414.12,449.40L414.12,444.60 M427.75,14.00L427.75,18.80 M427.75,231.50L427.75,226.70 M427.75,231.50L427.75,236.30 M427.75,449.40L427.75,444.60 M441.38,14.00L441.38,18.80 M441.38,231.50L441.38,226.70 M441.38,231.50L441.38,236.30 M441.38,449.40L441.38,444.60 M455.00,14.00L455.00,18.80 M455.00,231.50L455.00,226.70 M455.00,231.50L455.00,236.30 M455.00,449.40L455.00,444.60 M468.62,14.00L468.62,23.50 M468.62,231.50L468.62,222.00 M468.62,231.50L468.62,241.00 M468.62,449.40L468.62,439.90 M482.25,14.00L482.25,18.80 M482.25,231.50L482.25,226.70 M482.25,231.50L482.25,236.30 M482.25,449.40L482.25,444.60 M495.88,14.00L495.88,18.80 M495.88,231.50L495.88,226.70 M495.88,231.50L495.88,236.30 M495.88,449.40L495.88,444.60 M509.50,14.00L509.50,18.80 M509.50,231.50L509.50,226.70 M509.50,231.50L509.50,236.30 M509.50,449.40L509.50,444.60 M523.12,14.00L523.12,18.80 M523.12,231.50L523.12,226.70 M523.12,231.50L523.12,236.30 M523.12,449.40L523.12,444.60 M536.75,14.00L536.75,23.50 M536.75,231.50L536.75,222.00 M536.75,231.50L536.75,241.00 M536.75,449.40L536.75,439.90 M550.38,14.00L550.38,18.80 M550.38,231.50L550.38,226.70 M550.38,231.50L550.38,236.30 M550.38,449.40L550.38,444.60 M128.00,222.68L132.80,222.68 M564.00,222.68L559.20,222.68 M128.00,214.30L137.50,214.30 M564.00,214.30L554.50,214.30 M128.00,205.93L132.80,205.93 M564.00,205.93L559.20,205.93 M128.00,197.55L132.80,197.55 M564.00,197.55L559.20,197.55 M128.00,189.18L132.80,189.18 M564.00,189.18L559.20,189.18 M128.00,180.80L137.50,180.80 M564.00,180.80L554.50,180.80 M128.00,172.43L132.80,172.43 M564.00,172.43L559.20,172.43 M128.00,164.05L132.80,164.05 M564.00,164.05L559.20,164.05 M128.00,155.68L132.80,155.68 M564.00,155.68L559.20,155.68 M128.00,147.30L137.50,147.30 M564.00,147.30L554.50,147.30 M128.00,138.93L132.80,138.93 M564.00,138.93L559.20,138.93 M128.00,130.55L132.80,130.55 M564.00,130.55L559.20,130.55 M128.00,122.17L132.80,122.17 M564.00,122.17L559.20,122.17 M128.00,113.80L137.50,113.80 M564.00,113.80L554.50,113.80 M128.00,105.43L132.80,105.43 M564.00,105.43L559.20,105.43 M128.00,97.05L132.80,97.05 M564.00,97.05L559.20,97.05 M128.00,88.68L132.80,88.68 M564.00,88.68L559.20,88.68 M128.00,80.30L137.50,80.30 M564.00,80.30L554.50,80.30 M128.00,71.92L132.80,71.92 M564.00,71.92L559.20,71.92 M128.00,63.55L132.80,63.55 M564.00,63.55L559.20,63.55 M128.00,55.18L132.80,55.18 M564.00,55.18L559.20,55.18 M128.00,46.80L137.50,46.80 M564.00,46.80L554.50,46.80 M128.00,38.43L132.80,38.43 M564.00,38.43L559.20,38.43 M128.00,30.05L132.80,30.05 M564.00,30.05L559.20,30.05 M128.00,21.67L132.80,21.67 M564.00,21.67L559.20,21.67 M128.00,438.65L132.80,438.65 M564.00,438.65L559.20,438.65 M128.00,427.75L132.80,427.75 M564.00,427.75L559.20,427.75 M128.00,416.84L132.80,416.84 M564.00,416.84L559.20,416.84 M128.00,405.94L137.50,405.94 M564.00,405.94L554.50,405.94 M128.00,395.03L132.80,395.03 M564.00,395.03L559.20,395.03 M128.00,384.13L132.80,384.13 M564.00,384.13L559.20,384.13 M128.00,373.22L132.80,373.22 M564.00,373.22L559.20,373.22 M128.00,362.32L137.50,362.32 M564.00,362.32L554.50,362.32 M128.00,351.41L132.80,351.41 M564.00,351.41L559.20,351.41 M128.00,340.51L132.80,340.51 M564.00,340.51L559.20,340.51 M128.00,329.61L132.80,329.61 M564.00,329.61L559.20,329.61 M128.00,318.70L137.50,318.70 M564.00,318.70L554.50,318.70 M128.00,307.79L132.80,307.79 M564.00,307.79L559.20,307.79 M128.00,296.89L132.80,296.89 M564.00,296.89L559.20,296.89 M128.00,285.99L132.80,285.99 M564.00,285.99L559.20,285.99 M128.00,275.08L137.50,275.08 M564.00,275.08L554.50,275.08 M128.00,264.18L132.80,264.18 M564.00,264.18L559.20,264.18 M128.00,253.27L132.80,253.27 M564.00,253.27L559.20,253.27 M128.00,242.36L132.80,242.36 M564.00,242.36L559.20,242.36" stroke="#000" stroke-width="1.6" fill="none"/>
<text x="116.00" y="222.90" font-size="25.5" text-anchor="end" font-family="Liberation Serif" fill="#000">0.0</text>
<text x="116.00" y="189.40" font-size="25.5" text-anchor="end" font-family="Liberation Serif" fill="#000">0.1</text>
<text x="116.00" y="155.90" font-size="25.5" text-anchor="end" font-family="Liberation Serif" fill="#000">0.2</text>
<text x="116.00" y="122.40" font-size="25.5" text-anchor="end" font-family="Liberation Serif" fill="#000">0.3</text>
<text x="116.00" y="88.90" font-size="25.5" text-anchor="end" font-family="Liberation Serif" fill="#000">0.4</text>
<text x="116.00" y="55.40" font-size="25.5" text-anchor="end" font-family="Liberation Serif" fill="#000">0.5</text>
<text x="116.00" y="21.90" font-size="25.5" text-anchor="end" font-family="Liberation Serif" fill="#000">0.6</text>
<text x="116.00" y="283.68" font-size="25.5" text-anchor="end" font-family="Liberation Serif" fill="#000">0.1</text>
<text x="116.00" y="327.30" font-size="25.5" text-anchor="end" font-family="Liberation Serif" fill="#000">0.0</text>
<text x="116.00" y="370.92" font-size="25.5" text-anchor="end" font-family="Liberation Serif" fill="#000">-0.1</text>
<text x="116.00" y="414.54" font-size="25.5" text-anchor="end" font-family="Liberation Serif" fill="#000">-0.2</text>
<text x="116.00" y="458.16" font-size="25.5" text-anchor="end" font-family="Liberation Serif" fill="#000">-0.3</text>
<text x="128.00" y="481.80" font-size="25.5" text-anchor="middle" font-family="Liberation Serif" fill="#000">4000</text>
<text x="196.12" y="481.80" font-size="25.5" text-anchor="middle" font-family="Liberation Serif" fill="#000">3500</text>
<text x="264.25" y="481.80" font-size="25.5" text-anchor="middle" font-family="Liberation Serif" fill="#000">3000</text>
<text x="332.38" y="481.80" font-size="25.5" text-anchor="middle" font-family="Liberation Serif" fill="#000">2500</text>
<text x="400.50" y="481.80" font-size="25.5" text-anchor="middle" font-family="Liberation Serif" fill="#000">2000</text>
<text x="468.62" y="481.80" font-size="25.5" text-anchor="middle" font-family="Liberation Serif" fill="#000">1500</text>
<text x="536.75" y="481.80" font-size="25.5" text-anchor="middle" font-family="Liberation Serif" fill="#000">1000</text>
<text x="0.00" y="0.00" font-size="26" text-anchor="middle" font-family="Liberation Serif" fill="#000" transform="translate(65.6,116.3) rotate(-90)">Absorbance</text>
<text x="0.00" y="0.00" font-size="26" text-anchor="middle" font-family="Liberation Serif" fill="#000" transform="translate(65.2,342.9) rotate(-90)">Absorbance</text>
<text x="244.00" y="510.00" font-size="25.4" text-anchor="start" font-family="Liberation Serif" fill="#000">Wavenumber / cm<tspan font-size="17" dy="-10.7">&#8722;1</tspan></text>
<text x="144.80" y="49.60" font-size="25" text-anchor="start" font-family="Liberation Serif" fill="#000">(A)</text>
<text x="145.50" y="267.60" font-size="25" text-anchor="start" font-family="Liberation Serif" fill="#000">(B)</text>
<line x1="227.40" y1="45.40" x2="286.60" y2="45.40" stroke="#1a1aff" stroke-width="2"/>
<line x1="227.40" y1="77.60" x2="286.60" y2="77.60" stroke="#ee2222" stroke-width="2"/>
<text x="293.80" y="53.80" font-size="25.4" text-anchor="start" font-family="Liberation Serif" fill="#000">dry PMEA</text>
<text x="293.80" y="86.30" font-size="25.4" text-anchor="start" font-family="Liberation Serif" fill="#000">wet PMEA</text>
<line x1="255.90" y1="349.90" x2="315.90" y2="349.90" stroke="#1a1aff" stroke-width="2"/>
<line x1="255.90" y1="381.90" x2="315.90" y2="381.90" stroke="#ee2222" stroke-width="2"/>
<text x="322.20" y="358.50" font-size="25.5" text-anchor="start" font-family="Liberation Serif" fill="#000">0 s</text>
<text x="322.20" y="391.00" font-size="25.5" text-anchor="start" font-family="Liberation Serif" fill="#000">300 s</text>
<text x="257.30" y="423.80" font-size="25.5" text-anchor="start" font-family="Liberation Serif" fill="#000">every 1.86 s</text>
<path d="M234.2,129.2 L259.2,115.1 L283.6,128.6 L308.2,114.7 M283.6,128.6 L283.6,157.2 L299.6,166.4 M283.6,157.2 L266.5,167 M281,152.5 L264.5,162 M315.5,166.5 L332.3,157.4 L357.5,171.1 L373,161.9 M390,161.9 L405.9,171.6" stroke="#111" stroke-width="1.5" fill="none"/>
<path d="M250.6,105.3 Q240.0,123 250.6,140.8 M291.6,105.6 Q302.2,123.2 291.6,141" stroke="#111" stroke-width="1.5" fill="none"/>
<text x="299.00" y="137.50" font-size="13" text-anchor="start" font-family="Liberation Serif" fill="#000" font-style="italic">n</text>
<text x="258.90" y="176.50" font-size="20" text-anchor="middle" font-family="Liberation Sans" fill="#000">O</text>
<text x="307.70" y="176.50" font-size="20" text-anchor="middle" font-family="Liberation Sans" fill="#000">O</text>
<text x="381.00" y="162.50" font-size="20" text-anchor="middle" font-family="Liberation Sans" fill="#000">O</text>
<text x="13.40" y="587.60" font-size="26" text-anchor="start" font-family="Liberation Serif" fill="#000">(C)</text>
<path d="M70.1,718.4 L104.4,718.4 L104.4,667.5 L257.3,667.5 L257.3,692.7 L291.4,692.7 L291.4,727 L257.3,727 L257.3,752.5 L70.1,752.5 Z" fill="#dcdcdc" stroke="#000" stroke-width="2"/>
<path d="M113.2,700.9 L291.4,700.9 L291.4,719.3 L248.5,719.3 L248.5,744.1 L70.1,744.1 L70.1,726.6 L113.2,726.6 Z" fill="#e6f5fc" stroke="#000" stroke-width="2"/>
<rect x="113.2" y="684.5" width="135.3" height="16.4" fill="#c6e9b2" stroke="#000" stroke-width="2"/>
<path d="M112.7,684.5 A67.7,67.7 0 0 1 248.1,684.5 Z" fill="#f0f8c2" stroke="#000" stroke-width="2"/>
<path d="M265,599.6 L180.4,684 L116,619.6" stroke="#ee1c1c" stroke-width="3.9" fill="none" stroke-linejoin="miter"/>
<path d="M95.9,599.9 L124.8,616.6 L113.1,628.3 Z" fill="#ee1c1c"/>
<path d="M177.3,682.5 L180.4,697.5 L183.5,682.5 Z" fill="#ee1c1c"/>
<circle cx="137.8" cy="693.4" r="4.7" fill="#000"/>
<path d="M137.5,694 L121.3,780.9 L136.3,780.9" stroke="#000" stroke-width="2.2" fill="none"/>
<path d="M3.5,735.2 L38,735.2" stroke="#000" stroke-width="2.4"/>
<path d="M34.5,728.6 L58.4,735.2 L34.5,741.8 Z" fill="#000"/>
<text x="6.80" y="719.60" font-size="22.8" text-anchor="start" font-family="Liberation Sans" fill="#000">fluid</text>
<text x="222.60" y="592.40" font-size="22.8" text-anchor="start" font-family="Liberation Sans" fill="#000">IR beam</text>
<text x="141.00" y="788.00" font-size="22.8" text-anchor="start" font-family="Liberation Sans" fill="#000">polymer sample</text>
<rect x="364.3" y="558.8" width="291.1" height="217.9" fill="none" stroke="#000" stroke-width="2"/>
<path d="M385.09,558.80L385.09,563.80 M385.09,776.70L385.09,771.70 M405.89,558.80L405.89,568.80 M405.89,776.70L405.89,766.70 M426.68,558.80L426.68,563.80 M426.68,776.70L426.68,771.70 M447.47,558.80L447.47,563.80 M447.47,776.70L447.47,771.70 M468.26,558.80L468.26,563.80 M468.26,776.70L468.26,771.70 M489.06,558.80L489.06,568.80 M489.06,776.70L489.06,766.70 M509.85,558.80L509.85,563.80 M509.85,776.70L509.85,771.70 M530.64,558.80L530.64,563.80 M530.64,776.70L530.64,771.70 M551.44,558.80L551.44,563.80 M551.44,776.70L551.44,771.70 M572.23,558.80L572.23,568.80 M572.23,776.70L572.23,766.70 M593.02,558.80L593.02,563.80 M593.02,776.70L593.02,771.70 M613.81,558.80L613.81,563.80 M613.81,776.70L613.81,771.70 M634.61,558.80L634.61,563.80 M634.61,776.70L634.61,771.70" stroke="#000" stroke-width="1.6" fill="none"/>
<g clip-path="url(#cD)">
<path d="M364.70,772.00 367.20,766.61 370.20,761.23 372.20,756.58 375.45,747.26 378.45,736.84 382.70,718.40 387.45,692.45 393.95,661.16 399.20,637.66 403.45,622.79 404.70,619.26 405.95,616.57 407.45,614.40 409.20,612.39 410.95,610.91 413.20,609.73 415.70,608.77 417.70,608.50 418.70,608.67 419.95,609.21 425.45,612.64 432.70,617.90 439.70,622.65 443.70,625.89 447.95,630.12 455.95,638.77 459.70,643.15 466.70,651.92 473.20,658.36 478.20,663.78 479.70,665.80 480.95,667.91 485.20,676.90 492.95,692.49 499.45,704.63 506.45,716.94 510.45,723.51 515.95,731.69 518.45,734.72 520.70,736.62 524.45,739.05 527.95,740.51 533.95,741.96 542.70,743.40 545.95,744.59 552.45,748.34 565.45,757.03 573.70,763.48 576.95,765.11 581.20,766.68 590.45,769.22 597.95,771.83 605.45,773.60 615.20,774.59 640.00,776.00" fill="none" stroke="#1a1aff" stroke-width="2" stroke-linejoin="round" stroke-linecap="butt"/>
<path d="M364.70,773.40 367.20,772.63 369.70,771.41 372.70,769.52 375.70,767.29 378.70,764.06 388.70,751.53 390.95,748.96 393.95,746.20 401.20,740.49 404.95,736.75 422.45,715.91 443.95,690.96 450.70,682.86 455.70,676.41 461.70,667.35 465.20,662.58 468.95,657.91 472.95,653.60 476.95,649.93 482.70,646.07 485.20,645.12 488.45,644.57 490.95,644.40 493.70,644.73 497.70,645.89 503.45,648.94 507.95,651.67 510.95,653.78 512.95,655.44 519.45,662.39 522.20,664.85 525.70,667.22 541.20,676.49 544.70,679.01 548.70,682.40 552.45,685.87 564.70,698.04 569.95,703.72 576.45,711.66 589.70,729.51 596.95,738.13 604.45,745.86 612.20,752.62 619.20,757.65 625.45,761.22 629.95,763.26 637.20,765.65 642.45,767.79 648.45,770.68 654.70,774.20" fill="none" stroke="#ee2222" stroke-width="2" stroke-linejoin="round" stroke-linecap="butt"/>
<path d="M364.70,770.50 373.70,764.20 382.95,758.30 389.45,753.78 392.45,751.92 401.20,747.36 411.95,742.93 416.45,740.55 429.95,731.05 435.95,726.38 439.20,723.44 443.45,719.15 468.20,692.73 472.45,687.61 480.45,676.71 487.20,667.96 491.70,663.13 495.20,660.07 497.70,658.43 500.20,657.14 504.70,655.37 508.20,654.25 510.70,653.71 514.70,653.23 522.20,652.80 525.70,653.36 531.70,655.28 542.20,657.85 549.45,660.10 551.95,661.21 554.45,662.72 560.70,667.64 563.95,670.86 567.70,675.08 574.95,684.89 583.70,698.11 598.20,722.50 603.70,729.99 611.70,739.66 619.45,747.80 626.70,754.20 632.20,758.31 645.95,767.42 654.70,774.20" fill="none" stroke="#229922" stroke-width="2" stroke-linejoin="round" stroke-linecap="butt"/>
</g>
<text x="405.89" y="808.30" font-size="25" text-anchor="middle" font-family="Liberation Serif" fill="#000">3600</text>
<text x="489.06" y="808.30" font-size="25" text-anchor="middle" font-family="Liberation Serif" fill="#000">3400</text>
<text x="572.23" y="808.30" font-size="25" text-anchor="middle" font-family="Liberation Serif" fill="#000">3200</text>
<text x="655.40" y="808.30" font-size="25" text-anchor="middle" font-family="Liberation Serif" fill="#000">3000</text>
<text x="0.00" y="0.00" font-size="26" text-anchor="middle" font-family="Liberation Serif" fill="#000" transform="translate(352.2,669.4) rotate(-90)">Absorbance</text>
<text x="408.80" y="840.50" font-size="25.4" text-anchor="start" font-family="Liberation Serif" fill="#000">Wavenumber / cm<tspan font-size="17" dy="-10.7">&#8722;1</tspan></text>
<text x="376.60" y="596.90" font-size="25" text-anchor="start" font-family="Liberation Serif" fill="#000">(D)</text>
<text x="426.60" y="604.60" font-size="25" text-anchor="start" font-family="Liberation Serif" fill="#1a1aff">(a)</text>
<text x="478.00" y="633.00" font-size="25" text-anchor="start" font-family="Liberation Serif" fill="#ee2222">(b)</text>
<text x="532.80" y="644.60" font-size="25" text-anchor="start" font-family="Liberation Serif" fill="#229922">(c)</text>
</svg>
</body></html>
